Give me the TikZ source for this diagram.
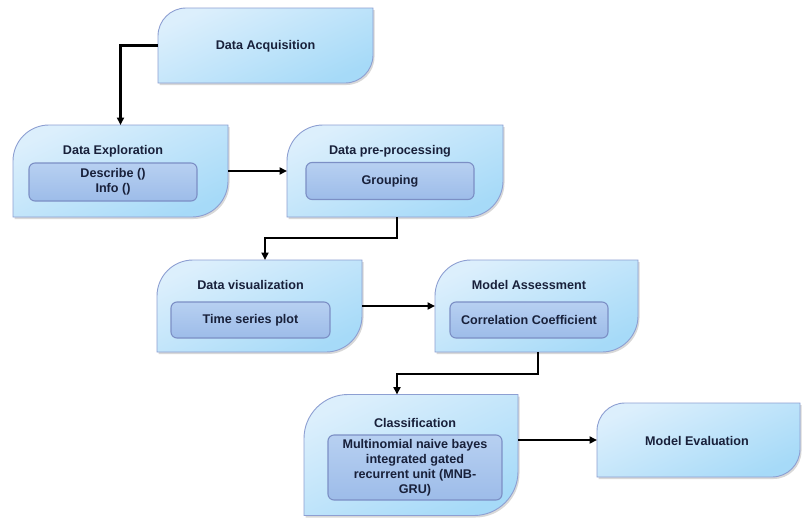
\documentclass[tikz,border=0pt]{standalone}
\usepackage{fontspec}
\setmainfont{Liberation Sans}
\usetikzlibrary{arrows.meta,shadows,calc}
\definecolor{leafTop}{HTML}{DCEFFC}
\definecolor{leafBot}{HTML}{A6DAF8}
\definecolor{leafLine}{HTML}{8D9FD2}
\definecolor{innerTop}{HTML}{B7D0F1}
\definecolor{innerBot}{HTML}{9DBCE9}
\definecolor{innerLine}{HTML}{7C8FC5}
\definecolor{txt}{HTML}{18203A}
\tikzset{
  frame/.style={rectangle, inner sep=0pt, outer sep=0pt},
  leafshape/.style={draw=leafLine, line width=0.9pt, top color=leafTop, bottom color=leafBot, shading angle=25,
     drop shadow={shadow xshift=1.5pt, shadow yshift=-2pt, opacity=0.25, fill=black!60}},
  innerbox/.style={rectangle, draw=innerLine, line width=1.1pt, rounded corners=6pt, top color=innerTop, bottom color=innerBot,
     inner sep=0pt, font=\bfseries\fontsize{12.6}{15}\selectfont, text=txt, align=center},
  ttl/.style={font=\bfseries\fontsize{12.6}{15}\selectfont, text=txt, align=center, inner sep=0pt},
  conn/.style={line width=2.2pt, black, -{Triangle[length=7.5pt,width=7pt]}},
}
\newcommand\leafdraw[2]{%
  \path[leafshape] (#1.south west) -- ($(#1.north west)+(0,#2)$) arc[start angle=180,end angle=90,radius=#2pt]
    -- (#1.north east) -- ($(#1.south east)+(0,-#2)$) arc[start angle=0,end angle=-90,radius=#2pt] -- cycle;}
\begin{document}
\begin{tikzpicture}[x=1pt,y=-1pt]
\useasboundingbox[fill=white] (0,0) rectangle (803,517);
% frames
\node[frame, minimum width=215pt, minimum height=75pt] (acq) at (265.5,45.5) {};
\node[frame, minimum width=215pt, minimum height=92pt] (expl) at (120.5,171) {};
\node[frame, minimum width=216pt, minimum height=92pt] (prep) at (395,171) {};
\node[frame, minimum width=205pt, minimum height=92pt] (vis) at (259.5,306) {};
\node[frame, minimum width=203pt, minimum height=92pt] (assess) at (536.5,306) {};
\node[frame, minimum width=214pt, minimum height=121pt] (cls) at (411,455) {};
\node[frame, minimum width=203pt, minimum height=74pt] (eval) at (698.5,440) {};
\leafdraw{acq}{28}
\leafdraw{expl}{36}
\leafdraw{prep}{36}
\leafdraw{vis}{36}
\leafdraw{assess}{36}
\leafdraw{cls}{44}
\leafdraw{eval}{28}
% titles
\node[ttl] (acqT) at (265.5,46) {Data Acquisition};
\node[ttl] (explT) at (113,151) {Data Exploration};
\node[ttl] (prepT) at (390,151) {Data pre-processing};
\node[ttl] (visT) at (250.5,285) {Data visualization};
\node[ttl] (assessT) at (529,285) {Model Assessment};
\node[ttl] (clsT) at (415,423) {Classification};
\node[ttl] (evalT) at (697,441) {Model Evaluation};
% inner boxes
\node[innerbox, minimum width=168pt, minimum height=38pt] (explI) at (113,182) {Describe ()\\Info ()};
\node[innerbox, minimum width=168pt, minimum height=37pt] (prepI) at (390,181) {Grouping};
\node[innerbox, minimum width=159pt, minimum height=36pt] (visI) at (250.5,320) {Time series plot};
\node[innerbox, minimum width=158pt, minimum height=36pt] (assessI) at (529,320) {Correlation Coefficient};
\node[innerbox, minimum width=174pt, minimum height=65pt] (clsI) at (415,467.5) {Multinomial naive bayes\\integrated gated\\recurrent unit (MNB-\\GRU)};
% connectors
\draw[conn] (acq.west) -| (expl.north);
\draw[conn] (expl.east) -- (prep.west);
\draw[conn] ([xshift=2pt]prep.south) -- ++(0,21) -| ([xshift=5.5pt]vis.north);
\draw[conn] (vis.east) -- (assess.west);
\draw[conn] ([xshift=1.5pt]assess.south) -- ++(0,22) -| ([xshift=-14pt]cls.north);
\draw[conn] (cls.east |- eval.west) -- (eval.west);
\end{tikzpicture}
\end{document}
